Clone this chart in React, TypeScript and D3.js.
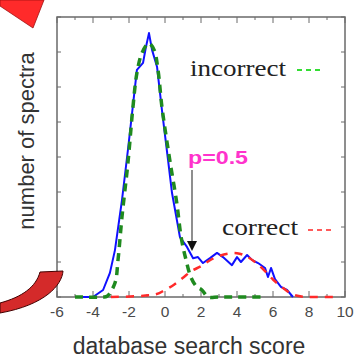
import * as d3 from "d3";
import { useEffect, useRef } from "react";

const width = 355;
const height = 362;

// x ticks (labelled) and y ticks (unlabelled)
const xTickLabels = [-6, -4, -2, 0, 2, 4, 6, 8, 10];
const yTickValues = [0, 1, 2, 3, 4, 5, 6, 7, 8];

// observed distribution (blue, solid)
const observedX = [-5, -4, -3.44, -3.06, -2.78, -2.39, -2.06, -1.56, -1.22, -1.06, -0.89, -0.72, -0.44, -0.17, 0.17, 0.39, 0.83, 1.22, 1.56, 1.83, 2.11, 2.5, 2.89, 3.22, 3.72, 4.0, 4.22, 4.56, 4.83, 5.17, 5.56, 5.72, 5.89, 6.11, 6.44, 6.78, 7.11];
const observedY = [0, 0, 0.2, 0.69, 1.34, 2.77, 4.2, 6.49, 6.69, 7.14, 7.54, 7.06, 6.57, 5.34, 3.91, 2.97, 1.71, 1.43, 1.11, 1.14, 0.97, 1.11, 1.26, 1.14, 0.91, 1.14, 1.0, 1.2, 1.06, 0.97, 0.83, 0.57, 0.83, 0.51, 0.29, 0.2, 0];

// incorrect model (green, dashed)
const incorrectX = [-5, -3.5, -3.22, -2.78, -2.61, -2.39, -2.06, -1.78, -1.56, -1.28, -0.9, -0.6, -0.39, -0.17, 0.06, 0.3, 0.65, 0.9, 1.15, 1.45, 1.75, 2.05, 2.4, 3, 5.5];
const incorrectY = [0, 0, 0.02, 0.4, 1.06, 2.29, 3.83, 5.43, 6.4, 6.97, 7.25, 7.05, 6.49, 5.43, 4.6, 3.8, 2.7, 1.7, 1.1, 0.55, 0.3, 0.2, 0, 0, 0];

// correct model (red, dashed)
const correctX = [-3, -0.5, 0, 0.5, 1, 1.5, 2, 2.5, 3, 3.5, 4, 4.5, 5, 5.5, 6, 6.5, 7, 7.5, 8, 9.5];
const correctY = [0, 0.08, 0.2, 0.35, 0.55, 0.75, 0.88, 1.05, 1.17, 1.24, 1.25, 1.17, 1.0, 0.77, 0.5, 0.28, 0.1, 0.02, 0, 0];

const sans = "'Liberation Sans', Arial, sans-serif";
const serif = "'Liberation Serif', 'Times New Roman', serif";

export default function App() {
  const svgRef = useRef(null);

  useEffect(() => {
    const svg = d3.select(svgRef.current);
    svg.selectAll("*").remove();

    const x = d3.scaleLinear().domain([-6, 10]).range([57, 345]);
    const y = d3.scaleLinear().domain([0, 8]).range([297, 17]);

    svg.append("rect").attr("width", width).attr("height", height).attr("fill", "#fff");

    // frame
    svg.append("rect")
      .attr("x", x(-6)).attr("y", y(8))
      .attr("width", x(10) - x(-6)).attr("height", y(0) - y(8))
      .attr("fill", "none").attr("stroke", "#6a6a6a").attr("stroke-width", 1.5);

    // x ticks, bottom and top, pointing inward
    const xTicks = d3.range(-6, 11, 1);
    const tickLen = (d) => (d % 2 === 0 ? 6 : 3);
    svg.append("g").selectAll("line").data(xTicks).join("line")
      .attr("x1", d => x(d)).attr("x2", d => x(d))
      .attr("y1", y(0)).attr("y2", d => y(0) - tickLen(d))
      .attr("stroke", "#6a6a6a").attr("stroke-width", 1);
    svg.append("g").selectAll("line").data(xTicks).join("line")
      .attr("x1", d => x(d)).attr("x2", d => x(d))
      .attr("y1", y(8)).attr("y2", d => y(8) + tickLen(d))
      .attr("stroke", "#6a6a6a").attr("stroke-width", 1);

    // y ticks left and right
    svg.append("g").selectAll("line").data(yTickValues).join("line")
      .attr("x1", x(-6)).attr("x2", x(-6) + 4)
      .attr("y1", d => y(d)).attr("y2", d => y(d))
      .attr("stroke", "#6a6a6a").attr("stroke-width", 1);
    svg.append("g").selectAll("line").data(yTickValues).join("line")
      .attr("x1", x(10)).attr("x2", x(10) - 4)
      .attr("y1", d => y(d)).attr("y2", d => y(d))
      .attr("stroke", "#6a6a6a").attr("stroke-width", 1);

    // x tick labels
    svg.append("g").selectAll("text").data(xTickLabels).join("text")
      .attr("x", d => x(d)).attr("y", 317)
      .attr("text-anchor", "middle")
      .attr("font-family", sans).attr("font-size", 15.5).attr("fill", "#4a4a4a")
      .text(d => d);

    const toPts = (xs, ys) => xs.map((v, i) => [v, ys[i]]);
    const smooth = d3.line().x(d => x(d[0])).y(d => y(d[1])).curve(d3.curveCatmullRom);
    const jagged = d3.line().x(d => x(d[0])).y(d => y(d[1]));

    svg.append("path")
      .attr("d", jagged(toPts(observedX, observedY)))
      .attr("fill", "none").attr("stroke", "#1010ff").attr("stroke-width", 2)
      .attr("stroke-linejoin", "round");

    svg.append("path")
      .attr("d", smooth(toPts(incorrectX, incorrectY)))
      .attr("fill", "none").attr("stroke", "#1f8a1f").attr("stroke-width", 3.5)
      .attr("stroke-dasharray", "8 6");

    svg.append("path")
      .attr("d", smooth(toPts(correctX, correctY)))
      .attr("fill", "none").attr("stroke", "#ff2a2a").attr("stroke-width", 2.5)
      .attr("stroke-dasharray", "8 7");

    // legend entries
    svg.append("text")
      .attr("x", 190).attr("y", 76)
      .attr("font-family", serif).attr("font-size", 24).attr("fill", "#222")
      .attr("textLength", 96).attr("lengthAdjust", "spacingAndGlyphs")
      .text("incorrect");
    svg.append("line")
      .attr("x1", 297).attr("x2", 323).attr("y1", 70).attr("y2", 70)
      .attr("stroke", "#33dd33").attr("stroke-width", 2).attr("stroke-dasharray", "5 4");

    svg.append("text")
      .attr("x", 222).attr("y", 235)
      .attr("font-family", serif).attr("font-size", 24).attr("fill", "#222")
      .attr("textLength", 76).attr("lengthAdjust", "spacingAndGlyphs")
      .text("correct");
    svg.append("line")
      .attr("x1", 308).attr("x2", 334).attr("y1", 230).attr("y2", 230)
      .attr("stroke", "#ff5a5a").attr("stroke-width", 2).attr("stroke-dasharray", "5 4");

    // p=0.5 annotation with arrow
    svg.append("text")
      .attr("x", 188).attr("y", 164)
      .attr("font-family", sans).attr("font-weight", "bold").attr("font-size", 19)
      .attr("fill", "#ff33cc")
      .attr("textLength", 60).attr("lengthAdjust", "spacingAndGlyphs")
      .text("p=0.5");
    svg.append("line")
      .attr("x1", 192).attr("x2", 192).attr("y1", 170).attr("y2", 243)
      .attr("stroke", "#444").attr("stroke-width", 1.2);
    svg.append("path")
      .attr("d", "M187,241 L197,241 L192,251 Z")
      .attr("fill", "#111");

    // axis titles
    svg.append("text")
      .attr("transform", "translate(34,141) rotate(-90)")
      .attr("text-anchor", "middle")
      .attr("font-family", sans).attr("font-size", 22).attr("fill", "#333")
      .text("number of spectra");
    svg.append("text")
      .attr("x", 189).attr("y", 354)
      .attr("text-anchor", "middle")
      .attr("font-family", sans).attr("font-size", 23).attr("fill", "#333")
      .text("database search score");

    // red decorative shapes at the left edge
    svg.append("path")
      .attr("d", "M0,0 L44,0 L33,28 L0,6 Z")
      .attr("fill", "#ff2a2a").attr("stroke", "#a01010").attr("stroke-width", 0.8);
    svg.append("path")
      .attr("d", "M40,272 L63,271 C62,285 45,305 0,313 L0,303 C22,297 36,287 40,272 Z")
      .attr("fill", "#d42a2a").attr("stroke", "#400").attr("stroke-width", 1);

    return () => d3.select(svgRef.current).selectAll("*").remove();
  }, []);

  return (
    <svg ref={svgRef} width={width} height={height}
      style={{ position: "absolute", left: 0, top: 0, display: "block" }} />
  );
}
